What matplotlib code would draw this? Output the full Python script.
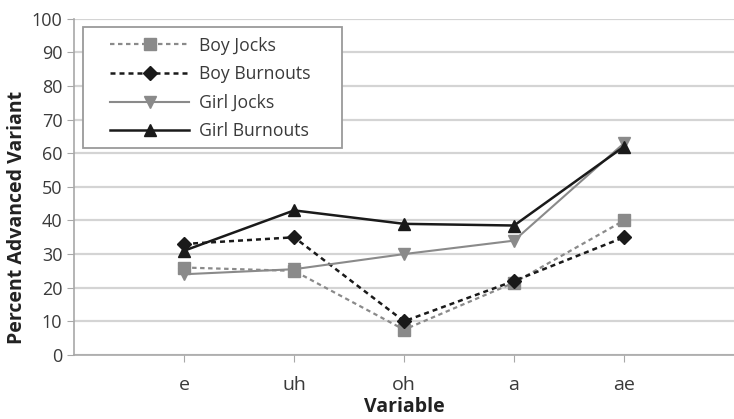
import matplotlib
matplotlib.use("Agg")
import matplotlib.pyplot as plt
from matplotlib.patches import Rectangle

plt.rcParams['font.family'] = ['Open Sans', 'DejaVu Sans']

variables = ['e', 'uh', 'oh', 'a', 'ae']
boy_jocks = [26, 25, 7.5, 21.5, 40]
boy_burnouts = [33, 35, 10, 22, 35]
girl_jocks = [24, 25.5, 30, 34, 63]
girl_burnouts = [31, 43, 39, 38.5, 62]

x = list(range(1, len(variables) + 1))

fig = plt.figure(figsize=(7.34, 4.19), dpi=100)
ax = fig.add_axes([0.101, 0.153, 0.899, 0.802])

ax.plot(x, boy_jocks, color='#8a8a8a', linestyle=(0, (2, 1.6)), lw=1.6,
        marker='s', ms=9, label='Boy Jocks')
ax.plot(x, boy_burnouts, color='#1a1a1a', linestyle=(0, (2, 1.6)), lw=1.8,
        marker='D', ms=7, label='Boy Burnouts')
ax.plot(x, girl_jocks, color='#8a8a8a', linestyle='-', lw=1.5,
        marker='v', ms=8, label='Girl Jocks')
ax.plot(x, girl_burnouts, color='#1a1a1a', linestyle='-', lw=1.8,
        marker='^', ms=8, label='Girl Burnouts')

ax.set_xlim(0, 6)
ax.set_ylim(0, 100)
ax.set_yticks(range(0, 101, 10))
ax.set_xticks(x)
ax.set_xticklabels(variables)
ax.yaxis.grid(True, color='#d4d4d4', lw=1.6)
ax.set_axisbelow(True)

for s in ['top', 'right']:
    ax.spines[s].set_visible(False)
for s in ['left', 'bottom']:
    ax.spines[s].set_color('#a8a8a8')
    ax.spines[s].set_linewidth(1.2)

ax.tick_params(axis='both', colors='#a8a8a8', labelcolor='#3a3a3a',
               labelsize=13, length=5)
ax.tick_params(axis='x', pad=10, labelsize=14)

ax.set_xlabel('Variable', fontsize=14, fontweight='bold', color='#222222', labelpad=2)
ax.set_ylabel('Percent Advanced Variant', fontsize=14, fontweight='bold', color='#222222')
ax.yaxis.set_label_coords(-0.071, 0.41)

# legend box drawn separately (wide side padding, tight top/bottom like the original)
box = Rectangle((0.0136, 0.616), 0.392, 0.36, transform=ax.transAxes,
                facecolor='white', edgecolor='#9a9a9a', lw=1.3, zorder=4)
ax.add_patch(box)
leg = ax.legend(loc='upper left', bbox_to_anchor=(0.0545, 0.947), fontsize=12.7,
                frameon=False, handlelength=4.5, handletextpad=0.55,
                borderpad=0, borderaxespad=0, labelspacing=0.6)
leg.set_zorder(5)
for t in leg.get_texts():
    t.set_color('#3a3a3a')

fig.savefig('out.png', dpi=100)
